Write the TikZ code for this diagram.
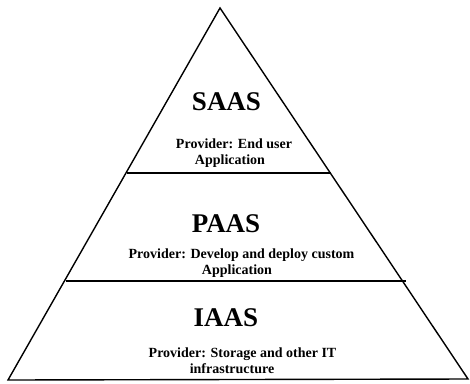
\documentclass[tikz,border=0pt]{standalone}
\usepackage{fontspec}
\setmainfont{Liberation Serif}
\begin{document}
\begin{tikzpicture}[x=1pt,y=-1pt,
  edge/.style={draw=black,line width=1.4pt,line join=miter},
  title/.style={font=\bfseries\fontsize{27}{30}\selectfont,inner sep=0pt,anchor=base},
  desc/.style={font=\bfseries\fontsize{14}{16}\selectfont,inner sep=0pt,anchor=base}]
\useasboundingbox (0,0) rectangle (470,383);
\coordinate (apex) at (220,8);
\coordinate (bl) at (8,380);
\coordinate (br) at (468,379);
\coordinate (d1l) at (126.5,173);
\coordinate (d1r) at (331,173);
\coordinate (d2l) at (65.5,281);
\coordinate (d2r) at (406,281);
\draw[edge] (apex) -- (br) -- (bl) -- cycle;
\draw[edge] (d1l) -- (d1r);
\draw[edge] (d2l) -- (d2r);
\node[title] (saas) at (226.5,110) {SAAS};
\node[desc] (s1) at (234,148) {Provider: End user};
\node[desc] (s2) at (230,164) {Application};
\node[title] (paas) at (226,232) {PAAS};
\node[desc] (p1) at (241.5,258) {Provider: Develop and deploy custom};
\node[desc] (p2) at (237,274) {Application};
\node[title] (iaas) at (226,326) {IAAS};
\node[desc] (i1) at (242.5,357) {Provider: Storage and other IT};
\node[desc] (i2) at (232,373) {infrastructure};
\end{tikzpicture}
\end{document}
